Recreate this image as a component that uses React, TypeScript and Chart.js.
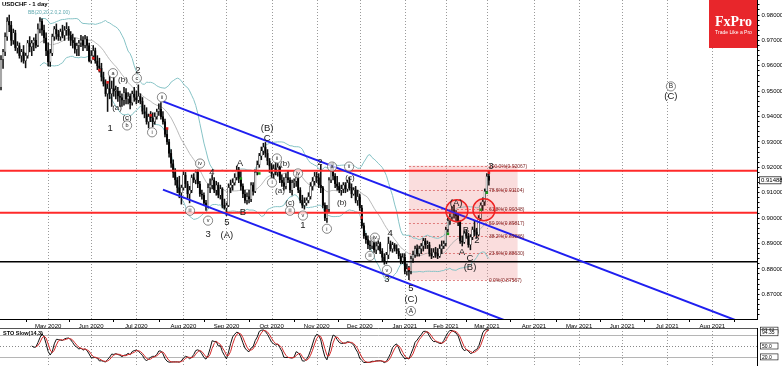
import React, { useEffect, useRef } from 'react';
import { Chart, registerables } from 'chart.js';
Chart.register(...registerables);

const FONT = '"Liberation Sans", Arial, sans-serif';

// ---- Daily USDCHF candles (bar index 0 = 31 Mar 2020 ... 238 = 2 Mar 2021) ----
const OPEN = [
.9515,.9625,.9655,.9715,.9775,.9760,.9700,.9730,.9670,.9680,.9640,.9655,.9620,.9640,.9690,.9675,.9690,.9700,.9680,.9745,
.9775,.9740,.9710,.9660,.9615,.9650,.9715,.9745,.9725,.9715,.9735,.9720,.9740,.9745,.9720,.9700,.9690,.9665,.9680,.9690,
.9700,.9680,.9705,.9680,.9620,.9640,.9660,.9620,.9600,.9590,.9555,.9530,.9490,.9510,.9490,.9510,.9500,.9500,.9480,.9475,
.9465,.9495,.9470,.9480,.9455,.9490,.9475,.9465,.9480,.9460,.9420,.9410,.9380,.9400,.9395,.9380,.9400,.9420,.9430,.9400,
.9380,.9330,.9300,.9255,.9215,.9180,.9150,.9120,.9100,.9120,.9170,.9135,.9095,.9110,.9160,.9150,.9180,.9135,.9095,.9090,
.9060,.9045,.9120,.9130,.9150,.9110,.9130,.9090,.9115,.9050,.9040,.9050,.9120,.9130,.9140,.9160,.9190,.9155,.9125,.9095,
.9070,.9085,.9075,.9130,.9105,.9180,.9210,.9245,.9265,.9280,.9255,.9225,.9205,.9175,.9195,.9180,.9200,.9150,.9140,.9125,
.9160,.9150,.9110,.9140,.9145,.9160,.9110,.9070,.9050,.9060,.9070,.9085,.9125,.9145,.9165,.9160,.9130,.9120,.9050,.9000,
.9035,.9150,.9190,.9165,.9135,.9125,.9110,.9115,.9130,.9115,.9140,.9120,.9095,.9110,.9070,.9085,.9040,.8970,.8930,.8915,
.8895,.8890,.8915,.8875,.8890,.8900,.8870,.8845,.8830,.8855,.8900,.8880,.8895,.8880,.8870,.8850,.8830,.8845,.8790,.8800,
.8790,.8840,.8855,.8880,.8860,.8880,.8890,.8910,.8895,.8895,.8860,.8850,.8865,.8860,.8850,.8880,.8890,.8900,.8955,.8990,
.9005,.9030,.9015,.9010,.8985,.8910,.8905,.8940,.8930,.8895,.8925,.8955,.8945,.8935,.9000,.9050,.9065,.9105,.9165
];
const HIGH = [
.9640,.9665,.9730,.9790,.9800,.9775,.9745,.9740,.9695,.9690,.9665,.9680,.9650,.9700,.9715,.9700,.9710,.9725,.9765,.9790,
.9785,.9760,.9730,.9690,.9665,.9725,.9755,.9765,.9740,.9745,.9760,.9755,.9770,.9755,.9735,.9725,.9710,.9690,.9700,.9720,
.9715,.9720,.9715,.9690,.9660,.9680,.9670,.9640,.9630,.9610,.9575,.9545,.9530,.9560,.9540,.9555,.9520,.9515,.9500,.9490,
.9515,.9510,.9495,.9490,.9500,.9515,.9500,.9525,.9490,.9475,.9445,.9435,.9410,.9420,.9415,.9415,.9430,.9450,.9455,.9420,
.9390,.9350,.9310,.9270,.9230,.9195,.9160,.9165,.9130,.9185,.9180,.9145,.9125,.9170,.9175,.9190,.9190,.9145,.9110,.9100,
.9070,.9135,.9155,.9170,.9160,.9145,.9140,.9130,.9120,.9075,.9060,.9135,.9150,.9155,.9175,.9205,.9200,.9185,.9135,.9110,
.9100,.9110,.9140,.9140,.9190,.9225,.9255,.9280,.9295,.9298,.9270,.9235,.9215,.9210,.9220,.9215,.9205,.9170,.9160,.9175,
.9185,.9160,.9150,.9155,.9170,.9175,.9120,.9090,.9080,.9080,.9100,.9140,.9160,.9180,.9180,.9175,.9210,.9125,.9060,.9050,
.9160,.9215,.9218,.9175,.9165,.9140,.9130,.9140,.9140,.9150,.9160,.9135,.9120,.9125,.9110,.9095,.9050,.8980,.8940,.8930,
.8910,.8925,.8925,.8905,.8920,.8905,.8880,.8860,.8865,.8925,.8910,.8905,.8900,.8895,.8880,.8860,.8860,.8860,.8820,.8810,
.8850,.8870,.8890,.8895,.8890,.8900,.8920,.8920,.8910,.8905,.8880,.8880,.8885,.8880,.8895,.8910,.8910,.8965,.9000,.9020,
.9045,.9050,.9030,.9020,.8990,.8930,.8950,.8955,.8940,.8935,.8965,.8990,.8960,.9010,.9060,.9080,.9115,.9175,.9185
];
const LOW = [
.9505,.9590,.9640,.9700,.9735,.9680,.9685,.9660,.9650,.9630,.9615,.9610,.9592,.9630,.9655,.9640,.9660,.9670,.9675,.9730,
.9720,.9690,.9640,.9600,.9598,.9640,.9700,.9705,.9700,.9700,.9710,.9700,.9720,.9700,.9680,.9670,.9650,.9640,.9640,.9675,
.9660,.9670,.9660,.9615,.9610,.9625,.9610,.9585,.9575,.9540,.9520,.9480,.9420,.9470,.9440,.9480,.9470,.9460,.9440,.9440,
.9445,.9450,.9450,.9430,.9445,.9460,.9450,.9455,.9450,.9410,.9395,.9370,.9355,.9380,.9360,.9370,.9390,.9405,.9390,.9370,
.9320,.9290,.9240,.9200,.9160,.9130,.9100,.9080,.9055,.9110,.9120,.9080,.9060,.9100,.9140,.9135,.9120,.9085,.9075,.9050,
.9030,.9040,.9100,.9115,.9100,.9090,.9080,.9075,.9040,.9035,.9010,.9045,.9100,.9110,.9130,.9150,.9140,.9110,.9080,.9060,
.9055,.9060,.9065,.9090,.9100,.9170,.9200,.9230,.9250,.9240,.9210,.9180,.9160,.9155,.9170,.9165,.9140,.9125,.9110,.9115,
.9140,.9100,.9090,.9120,.9125,.9100,.9060,.9040,.9035,.9050,.9060,.9075,.9110,.9130,.9140,.9120,.9100,.9040,.8990,.8983,
.9025,.9140,.9150,.9120,.9110,.9100,.9090,.9100,.9100,.9105,.9110,.9080,.9090,.9060,.9050,.9030,.8960,.8920,.8900,.8880,
.8875,.8880,.8865,.8860,.8875,.8860,.8830,.8818,.8820,.8840,.8870,.8865,.8870,.8860,.8840,.8820,.8820,.8780,.8775,.8757,
.8780,.8825,.8845,.8850,.8850,.8860,.8870,.8880,.8880,.8850,.8840,.8845,.8845,.8840,.8845,.8860,.8880,.8890,.8945,.8975,
.8995,.9000,.8985,.8970,.8900,.8890,.8900,.8920,.8885,.8875,.8915,.8930,.8920,.8930,.8990,.9030,.9050,.9100,.9130
];
const CLOSE = [
.9625,.9655,.9715,.9775,.9760,.9700,.9730,.9670,.9680,.9640,.9655,.9620,.9640,.9690,.9675,.9690,.9700,.9680,.9745,.9775,
.9740,.9710,.9660,.9615,.9650,.9715,.9745,.9725,.9715,.9735,.9720,.9740,.9745,.9720,.9700,.9690,.9665,.9680,.9690,.9700,
.9680,.9705,.9680,.9620,.9640,.9660,.9620,.9600,.9590,.9555,.9530,.9490,.9510,.9490,.9510,.9500,.9500,.9480,.9475,.9465,
.9495,.9470,.9480,.9455,.9490,.9475,.9465,.9480,.9460,.9420,.9410,.9380,.9400,.9395,.9380,.9400,.9420,.9430,.9400,.9380,
.9330,.9300,.9255,.9215,.9180,.9150,.9120,.9100,.9120,.9170,.9135,.9095,.9110,.9160,.9150,.9180,.9135,.9095,.9090,.9060,
.9045,.9120,.9130,.9150,.9110,.9130,.9090,.9115,.9050,.9040,.9050,.9120,.9130,.9140,.9160,.9190,.9155,.9125,.9095,.9070,
.9085,.9075,.9130,.9105,.9180,.9210,.9245,.9265,.9280,.9255,.9225,.9205,.9175,.9195,.9180,.9200,.9150,.9140,.9125,.9160,
.9150,.9110,.9140,.9145,.9160,.9110,.9070,.9050,.9060,.9070,.9085,.9125,.9145,.9165,.9160,.9130,.9120,.9050,.9000,.9035,
.9150,.9190,.9165,.9135,.9125,.9110,.9115,.9130,.9115,.9140,.9120,.9095,.9110,.9070,.9085,.9040,.8970,.8930,.8915,.8895,
.8890,.8915,.8875,.8890,.8900,.8870,.8845,.8830,.8855,.8900,.8880,.8895,.8880,.8870,.8850,.8830,.8845,.8790,.8800,.8790,
.8840,.8855,.8880,.8860,.8880,.8890,.8910,.8895,.8895,.8860,.8850,.8865,.8860,.8850,.8880,.8890,.8900,.8955,.8990,.9005,
.9030,.9015,.9010,.8985,.8910,.8905,.8940,.8930,.8895,.8925,.8955,.8945,.8935,.9000,.9050,.9065,.9105,.9165,.91488
];

// ---- Time axis ----
const MONTH_LABELS = ['May 2020','Jun 2020','Jul 2020','Aug 2020','Sep 2020','Oct 2020','Nov 2020','Dec 2020',
  'Jan 2021','Feb 2021','Mar 2021','Apr 2021','May 2021','Jun 2021','Jul 2021','Aug 2021'];
const MONTH_BARS = [23,44,66,89,110,132,154,175,197,217,237,260,282,303,325,347];

// ---- Drawn levels / objects ----
const RED_LEVELS = [0.9187, 0.9021];
const BLACK_LEVELS = [0.8828];
const CHANNEL_BARS = [79, 370];
const CHANNEL_UPPER = [0.9460, 0.8562];
const CHANNEL_LOWER = [0.9112, 0.8214];
const FIB_PCT = ['0.0%','23.6%','38.2%','50.0%','61.8%','78.6%','100.0%'];
const FIB_PRICES = [0.87567, 0.88630, 0.89286, 0.89817, 0.90348, 0.91104, 0.92067];
const FIB_BARS = [199, 252];
const FIB_LABEL_BAR = 238;
const RING_BARS = [222.4, 235.6];
const RING_PRICES = [0.9029, 0.9033];
const SELL_BARS = [45, 48, 52, 73, 81, 159, 176, 199, 238];
const SELL_PRICES = [0.9630, 0.9583, 0.9535, 0.9405, 0.9353, 0.9029, 0.9002, 0.8800, 0.9179];
const BUY_BARS = [117, 126, 218, 234, 237];
const BUY_PRICES = [0.9156, 0.9176, 0.8938, 0.9033, 0.9100];

// ---- Elliott wave labels ----
const WAVE_TEXT = ['1','a','(a)','(b)','(c)','b','c','2','i','ii','iii','iv','4','v','3','5','(A)','A','B','C','(B)',
  'i','ii','(a)','(b)','(c)','iii','iv','v','1','2','i','a','(b)','(c)','ii','iii','iv','4','v','3','5','(C)','A',
  '(A)','B','A','C','2','(B)','3','B','(C)'];
const WAVE_BAR = [53.2,54.6,56.6,59.5,61.5,61.5,66.3,66.8,73.7,78.5,92.2,97.1,102.9,101,101,110.2,110.2,116.6,118,129.8,129.8,
  132.2,134.6,136.1,138.5,141,141,144.9,147.3,147.3,155.6,159,161.5,166.3,170.2,169.8,180,182.4,189.8,188.3,188.3,200,200,200,
  222,226.8,224.9,228.8,232.2,228.8,239,326.8,326.8];
const WAVE_PRICE = [0.9353,0.9571,0.9436,0.9543,0.9397,0.9365,0.9551,0.9583,0.9338,0.9476,0.9029,0.9215,0.9179,0.8990,0.8934,
  0.8982,0.8930,0.9215,0.9021,0.9314,0.9353,0.9140,0.9235,0.9108,0.9215,0.9061,0.9029,0.9176,0.9010,0.8970,0.9219,0.8958,
  0.9203,0.9061,0.9160,0.9203,0.8851,0.8923,0.8938,0.8796,0.8760,0.8725,0.8681,0.8634,0.9057,0.8950,0.8863,0.8843,0.8911,
  0.8804,0.9203,0.9519,0.9480];
const WAVE_CIRCLED = [0,1,0,0,0,1,1,0,1,1,1,1,0,1,0,0,0,0,0,0,0,1,1,0,0,0,1,1,1,0,0,1,1,0,0,1,1,1,0,1,0,0,0,1,
  0,0,0,0,0,0,0,1,0];

const X_MIN = -0.49;
const X_MAX = 368.8;
const Y_MIN = 0.86024;
const Y_MAX = 0.98593;

function bollinger(close: number[], n: number, k: number) {
  const up: any[] = [], mid: any[] = [], lo: any[] = [];
  for (let i = n - 1; i < close.length; i++) {
    const w = close.slice(i - n + 1, i + 1);
    const m = w.reduce((s, v) => s + v, 0) / n;
    const sd = Math.sqrt(w.reduce((s, v) => s + (v - m) * (v - m), 0) / n);
    up.push({ x: i, y: m + k * sd }); mid.push({ x: i, y: m }); lo.push({ x: i, y: m - k * sd });
  }
  return { up, mid, lo };
}

function stochastic(n: number, slow: number, sig: number) {
  const raw: (number | null)[] = CLOSE.map((c, i) => {
    if (i < n - 1) return null;
    const hh = Math.max(...HIGH.slice(i - n + 1, i + 1));
    const ll = Math.min(...LOW.slice(i - n + 1, i + 1));
    return hh === ll ? 50 : ((c - ll) / (hh - ll)) * 100;
  });
  const avg = (arr: (number | null)[], p: number) => arr.map((_, i) => {
    const w = arr.slice(Math.max(0, i - p + 1), i + 1);
    if (w.length < p || w.some(v => v === null)) return null;
    return (w as number[]).reduce((s, v) => s + v, 0) / p;
  });
  const k = avg(raw, slow);
  const d = avg(k, sig);
  return { k, d };
}

const zeroPad = (s: any) => { s.paddingTop = 0; s.paddingBottom = 0; s.paddingLeft = 0; s.paddingRight = 0; };

export default function App() {
  const mainRef = useRef<HTMLCanvasElement>(null);
  const stoRef = useRef<HTMLCanvasElement>(null);

  useEffect(() => {
    const bars = CLOSE.map((_, i) => i);
    const bb = bollinger(CLOSE, 20, 2);
    const wicks = bars.map(i => ({ x: i, y: [LOW[i], HIGH[i]] }));
    const bodies = bars.map(i => ({ x: i, y: [OPEN[i], CLOSE[i]] }));
    const bodyFill = bars.map(i => (CLOSE[i] >= OPEN[i] ? '#ffffff' : '#000000'));
    const hline = (p: number) => [{ x: X_MIN, y: p }, { x: X_MAX, y: p }];

    const bgPlugin = {
      id: 'bg',
      beforeDatasetsDraw(chart: any) {
        const { ctx, chartArea: a, scales: { x, y } } = chart;
        ctx.save();
        ctx.strokeStyle = '#9a9a9a';
        ctx.lineWidth = 1;
        ctx.setLineDash([1, 2]);
        MONTH_BARS.forEach(b => {
          const px = Math.round(x.getPixelForValue(b)) + 0.5;
          ctx.beginPath(); ctx.moveTo(px, a.top); ctx.lineTo(px, a.bottom); ctx.stroke();
        });
        const x0 = x.getPixelForValue(FIB_BARS[0]);
        const x1 = x.getPixelForValue(FIB_BARS[1]);
        const yT = y.getPixelForValue(FIB_PRICES[FIB_PRICES.length - 1]);
        const yB = y.getPixelForValue(FIB_PRICES[0]);
        ctx.setLineDash([]);
        ctx.fillStyle = 'rgba(238,150,150,0.32)';
        ctx.fillRect(x0, yT, x1 - x0, yB - yT);
        ctx.strokeStyle = 'rgba(215,90,90,0.75)';
        ctx.setLineDash([2, 2]);
        FIB_PRICES.forEach(p => {
          const py = Math.round(y.getPixelForValue(p)) + 0.5;
          ctx.beginPath(); ctx.moveTo(x0, py); ctx.lineTo(x1, py); ctx.stroke();
        });
        ctx.restore();
      }
    };

    const overlayPlugin = {
      id: 'overlay',
      afterDatasetsDraw(chart: any) {
        const { ctx, chartArea: a, scales: { x, y } } = chart;
        ctx.save();
        RING_BARS.forEach((b, k) => {
          const px = x.getPixelForValue(b), py = y.getPixelForValue(RING_PRICES[k]);
          ctx.beginPath(); ctx.arc(px, py, 11, 0, Math.PI * 2);
          ctx.fillStyle = 'rgba(255,60,60,0.15)'; ctx.fill();
          ctx.strokeStyle = '#ee2222'; ctx.lineWidth = 1.5; ctx.stroke();
        });
        ctx.font = `5px ${FONT}`;
        ctx.fillStyle = '#7a1d1d';
        ctx.textAlign = 'left';
        ctx.textBaseline = 'bottom';
        FIB_PRICES.forEach((p, k) => {
          ctx.fillText(`${FIB_PCT[k]}(${p.toFixed(5)})`, x.getPixelForValue(FIB_LABEL_BAR), y.getPixelForValue(p) + 3);
        });
        ctx.textAlign = 'center';
        ctx.textBaseline = 'middle';
        WAVE_TEXT.forEach((t, k) => {
          const px = x.getPixelForValue(WAVE_BAR[k]);
          const py = y.getPixelForValue(WAVE_PRICE[k]);
          if (WAVE_CIRCLED[k]) {
            ctx.beginPath(); ctx.arc(px, py, 4.6, 0, Math.PI * 2);
            ctx.fillStyle = 'rgba(255,255,255,0.7)'; ctx.fill();
            ctx.strokeStyle = '#555'; ctx.lineWidth = 0.7; ctx.stroke();
            ctx.fillStyle = '#222';
            const upper = t === t.toUpperCase();
            ctx.font = `${upper ? 6.5 : t.length > 2 ? 4.5 : 5.5}px ${FONT}`;
            ctx.fillText(t, px, py + 0.3);
          } else {
            const lower = t !== t.toUpperCase();
            ctx.fillStyle = '#1a1a1a';
            ctx.font = `${lower ? 8 : 9.5}px ${FONT}`;
            ctx.fillText(t, px, py);
          }
        });
        ctx.textAlign = 'left';
        ctx.textBaseline = 'top';
        ctx.fillStyle = '#000';
        ctx.font = `bold 6px ${FONT}`;
        ctx.fillText('USDCHF - 1 day', 2, 1);
        ctx.fillStyle = '#5fa9b0';
        ctx.font = `5px ${FONT}`;
        ctx.fillText('BB(20,20,2.0,2.00)', 28, 10);
        ctx.fillStyle = '#e8262b';
        ctx.fillRect(709, a.top, a.right - 709, 48);
        ctx.fillStyle = '#fff';
        ctx.textAlign = 'center';
        ctx.font = `bold 14px "Liberation Serif", "DejaVu Serif", serif`;
        ctx.fillText('FxPro', 733.5, 15);
        ctx.font = `5px ${FONT}`;
        ctx.fillText('Trade Like a Pro', 733.5, 30);
        const last = CLOSE[CLOSE.length - 1];
        const cy = y.getPixelForValue(last);
        ctx.fillStyle = '#fff';
        ctx.fillRect(a.right + 2, cy - 3.5, 22, 7);
        ctx.strokeStyle = '#000'; ctx.lineWidth = 0.7;
        ctx.strokeRect(a.right + 2.5, cy - 3.5, 21.5, 7);
        ctx.fillStyle = '#000';
        ctx.textAlign = 'left'; ctx.textBaseline = 'middle';
        ctx.font = `6px ${FONT}`;
        ctx.fillText(last.toFixed(5), a.right + 4, cy + 0.3);
        ctx.restore();
      }
    };

    const main = new Chart(mainRef.current as HTMLCanvasElement, {
      type: 'line',
      data: {
        datasets: [
          { type: 'line', data: bb.up, borderColor: '#86c3c6', borderWidth: 1, pointRadius: 0, order: 20 },
          { type: 'line', data: bb.lo, borderColor: '#86c3c6', borderWidth: 1, pointRadius: 0, order: 20 },
          { type: 'line', data: bb.mid, borderColor: '#a8a8a8', borderWidth: 0.8, pointRadius: 0, order: 20 },
          { type: 'bar', data: wicks as any, backgroundColor: '#111', barThickness: 0.9, grouped: false, order: 12 } as any,
          { type: 'bar', data: bodies as any, backgroundColor: bodyFill, borderColor: '#111', borderWidth: 0.5,
            borderSkipped: false, barThickness: 1.6, grouped: false, minBarLength: 0.8, order: 11 } as any,
          ...RED_LEVELS.map(p => ({ type: 'line', data: hline(p), borderColor: '#ff2a2a', borderWidth: 2, pointRadius: 0, order: 6 })),
          ...BLACK_LEVELS.map(p => ({ type: 'line', data: hline(p), borderColor: '#000', borderWidth: 1.5, pointRadius: 0, order: 6 })),
          { type: 'line', data: CHANNEL_BARS.map((b, k) => ({ x: b, y: CHANNEL_UPPER[k] })), borderColor: '#1f1ff0', borderWidth: 2, pointRadius: 0, order: 5 },
          { type: 'line', data: CHANNEL_BARS.map((b, k) => ({ x: b, y: CHANNEL_LOWER[k] })), borderColor: '#1f1ff0', borderWidth: 2, pointRadius: 0, order: 5 },
          { type: 'line', data: SELL_BARS.map((b, k) => ({ x: b, y: SELL_PRICES[k] })), showLine: false, pointStyle: 'rect',
            pointRadius: 1.8, backgroundColor: '#e01818', borderColor: '#e01818', borderWidth: 0, order: 4 },
          { type: 'line', data: BUY_BARS.map((b, k) => ({ x: b, y: BUY_PRICES[k] })), showLine: false, pointStyle: 'rect',
            pointRadius: 1.8, backgroundColor: '#1c9a1c', borderColor: '#1c9a1c', borderWidth: 0, order: 4 },
        ] as any,
      },
      options: {
        animation: false,
        responsive: false,
        maintainAspectRatio: false,
        layout: { padding: 0, autoPadding: false },
        plugins: { legend: { display: false }, tooltip: { enabled: false } },
        scales: {
          x: {
            type: 'linear', min: X_MIN, max: X_MAX, offset: false,
            afterBuildTicks: (s: any) => { s.ticks = MONTH_BARS.map(v => ({ value: v })); },
            afterFit: (s: any) => { s.height = 11; zeroPad(s); },
            ticks: {
              autoSkip: false, maxRotation: 0, padding: 1, color: '#000', font: { size: 6, family: FONT },
              callback: (v: any) => { const k = MONTH_BARS.indexOf(Number(v)); return k >= 0 ? MONTH_LABELS[k] : ''; },
            },
            grid: { display: true, drawOnChartArea: false, drawTicks: true, tickLength: 3, color: '#000' },
            border: { display: true, color: '#000', width: 1 },
          },
          y: {
            type: 'linear', position: 'right', min: Y_MIN, max: Y_MAX,
            afterBuildTicks: (s: any) => {
              const t: any[] = [];
              for (let n = 862; n <= 984; n += 2) t.push({ value: n / 1000 });
              s.ticks = t;
            },
            afterFit: (s: any) => { s.width = 25; zeroPad(s); },
            ticks: {
              autoSkip: false, padding: 2, color: '#000', font: { size: 6, family: FONT },
              callback: (v: any) => { const n = Math.round(Number(v) * 1000); return n % 10 === 0 ? Number(v).toFixed(5) : ''; },
            },
            grid: { display: true, drawOnChartArea: false, drawTicks: true, tickLength: 2.5, color: '#000' },
            border: { display: true, color: '#000', width: 1 },
          },
        },
      } as any,
      plugins: [bgPlugin, overlayPlugin],
    });

    const st = stochastic(14, 3, 3);
    const kData = bars.filter(i => st.k[i] !== null).map(i => ({ x: i, y: st.k[i] }));
    const dData = bars.filter(i => st.d[i] !== null).map(i => ({ x: i, y: st.d[i] }));
    const STO_LEVELS = [80, 50, 20];

    const stoPlugin = {
      id: 'sto',
      beforeDatasetsDraw(chart: any) {
        const { ctx, chartArea: a, scales: { x, y } } = chart;
        ctx.save();
        ctx.strokeStyle = '#9a9a9a'; ctx.lineWidth = 1; ctx.setLineDash([1, 2]);
        MONTH_BARS.forEach(b => {
          const px = Math.round(x.getPixelForValue(b)) + 0.5;
          ctx.beginPath(); ctx.moveTo(px, a.top + 2); ctx.lineTo(px, a.bottom); ctx.stroke();
        });
        STO_LEVELS.forEach(l => {
          const py = Math.round(y.getPixelForValue(l)) + 0.5;
          ctx.strokeStyle = l === 50 ? '#888' : '#b5b5b5';
          ctx.setLineDash(l === 50 ? [1, 2] : []);
          ctx.beginPath(); ctx.moveTo(a.left, py); ctx.lineTo(a.right, py); ctx.stroke();
        });
        ctx.setLineDash([]);
        ctx.strokeStyle = '#555';
        ctx.beginPath(); ctx.moveTo(a.left, a.top + 2.5); ctx.lineTo(a.right, a.top + 2.5); ctx.stroke();
        ctx.strokeStyle = '#000';
        ctx.beginPath(); ctx.moveTo(a.right + 0.5, a.top + 2); ctx.lineTo(a.right + 0.5, a.bottom); ctx.stroke();
        ctx.restore();
      },
      afterDatasetsDraw(chart: any) {
        const { ctx, chartArea: a, scales: { y } } = chart;
        ctx.save();
        ctx.fillStyle = '#000';
        ctx.font = `bold 5.5px ${FONT}`;
        ctx.textAlign = 'left'; ctx.textBaseline = 'top';
        ctx.fillText('STO Slow(14,3)', 3, a.top + 5);
        const lastK = st.k[st.k.length - 1] as number;
        const lastD = st.d[st.d.length - 1] as number;
        const boxes: [string, number][] = [
          [lastK.toFixed(2), lastK], [lastD.toFixed(2), lastD - 8], ['50.0', 50], ['20.0', 20],
        ];
        ctx.font = `5px ${FONT}`;
        ctx.textBaseline = 'middle';
        boxes.forEach(([t, v]) => {
          const py = y.getPixelForValue(v);
          ctx.fillStyle = '#fff'; ctx.fillRect(a.right + 3, py - 3, 18, 6);
          ctx.strokeStyle = '#000'; ctx.lineWidth = 0.6; ctx.strokeRect(a.right + 3.5, py - 3, 17.5, 6);
          ctx.fillStyle = '#000'; ctx.fillText(t, a.right + 5, py + 0.3);
        });
        ctx.restore();
      }
    };

    const sto = new Chart(stoRef.current as HTMLCanvasElement, {
      type: 'line',
      data: {
        datasets: [
          { data: dData, borderColor: '#d42a2a', borderWidth: 1, pointRadius: 0 },
          { data: kData, borderColor: '#111', borderWidth: 1, pointRadius: 0 },
        ] as any,
      },
      options: {
        animation: false,
        responsive: false,
        maintainAspectRatio: false,
        layout: { padding: { left: 0, right: 25, top: 0, bottom: 0 }, autoPadding: false },
        plugins: { legend: { display: false }, tooltip: { enabled: false } },
        scales: {
          x: { type: 'linear', min: X_MIN, max: X_MAX, display: false },
          y: { type: 'linear', min: -5, max: 105, display: false },
        },
      } as any,
      plugins: [stoPlugin],
    });

    return () => { main.destroy(); sto.destroy(); };
  }, []);

  return (
    <div style={{ position: 'absolute', left: 0, top: 0, width: 782, height: 366, background: '#fff', overflow: 'hidden' }}>
      <canvas ref={mainRef} width={782} height={330} style={{ position: 'absolute', left: 0, top: 0, display: 'block' }} />
      <canvas ref={stoRef} width={782} height={40} style={{ position: 'absolute', left: 0, top: 326, display: 'block' }} />
    </div>
  );
}
